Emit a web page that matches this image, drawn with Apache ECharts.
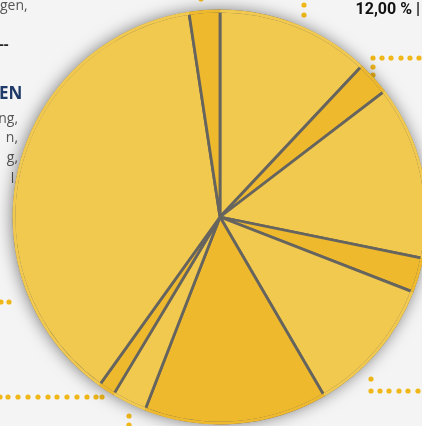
<!DOCTYPE html>
<html>
<head>
<meta charset="utf-8">
<script src="https://cdn.jsdelivr.net/npm/echarts@6/dist/echarts.min.js"></script>
<style>
  html, body { margin: 0; padding: 0; background: #f4f4f4; }
  #chart { width: 422px; height: 426px; }
</style>
</head>
<body>
<div id="chart"></div>
<script>
// slices, clockwise from 12 o'clock (percent)
const sliceNames = ["A", "B", "C", "D", "E", "F", "G", "H", "I", "J"];
const sliceValues = [12.0, 2.6, 13.6, 2.7, 10.7, 14.3, 2.7, 1.3, 37.7, 2.4];
const sliceShade = ["light", "dark", "light", "dark", "light", "dark", "light", "dark", "light", "dark"];
const shadeColors = { light: "#F2C94F", dark: "#EFB92D" };

// cut-off text from the surrounding infographic
const leftLines = [
  { text: "ng,", y: 121 },
  { text: "n,", y: 140 },
  { text: "g,", y: 160 },
  { text: "l,", y: 181 },
];

// decorative dotted leader lines
const dots = [
  [304, 5], [304, 15], [201, -1],
  [373, 58], [382, 58], [391, 58], [401, 58], [410, 58], [419, 58], [373, 67], [373, 75],
  [371, 379], [371, 391], [380, 391], [389, 391], [399, 391], [408, 391], [418, 391],
  [1, 302], [9, 302],
  [0, 397], [8, 397], [18, 397], [28, 397], [38, 397], [48, 397], [57, 397],
  [67, 397], [77, 397], [87, 397], [96, 397], [102, 397], [129, 416], [129, 425],
];

const chart = echarts.init(document.getElementById("chart"));

const graphics = [];
graphics.push({
  type: "text", left: 0, top: -1, z: 0,
  style: { text: "gen,", fill: "#555", font: "14px 'Open Sans', sans-serif" },
});
leftLines.forEach((l) => {
  graphics.push({
    type: "text",
    right: 404,
    top: l.y - 9,
    z: 0,
    style: { text: l.text, fill: "#555", font: "14px 'Open Sans', sans-serif" },
  });
});
graphics.push({
  type: "text", left: -1, top: 37, z: 0,
  style: { text: "--", fill: "#222", font: "bold 15px 'Open Sans', sans-serif" },
});
graphics.push({
  type: "text", left: -1, top: 86, z: 0,
  style: { text: "EN", fill: "#1F3A68", font: "bold 17px 'Open Sans', sans-serif" },
});
graphics.push({
  type: "text", right: 2, top: 2, z: 0,
  style: { text: "12,00 % |", fill: "#111", font: "bold 16px Roboto, sans-serif" },
});
dots.forEach((d) => {
  graphics.push({
    type: "circle", z: 0,
    shape: { cx: d[0], cy: d[1], r: 2.6 },
    style: { fill: "#F0B719" },
  });
});

const sliceData = sliceValues.map((v, i) => ({
  name: sliceNames[i],
  value: v,
  itemStyle: { color: shadeColors[sliceShade[i]] },
}));

const option = {
  backgroundColor: "#f4f4f4",
  animation: false,
  graphic: graphics,
  series: [
    {
      // backing disc for the drop shadow
      type: "pie",
      center: [220, 217],
      radius: 207,
      silent: true,
      z: 1,
      label: { show: false },
      labelLine: { show: false },
      data: [{ value: 1, itemStyle: { color: "#F2C94F" } }],
      itemStyle: {
        shadowBlur: 16,
        shadowColor: "rgba(0,0,0,0.5)",
        shadowOffsetX: -1,
      },
    },
    {
      type: "pie",
      center: [220, 217],
      radius: 206,
      startAngle: 90,
      clockwise: true,
      z: 2,
      silent: true,
      label: { show: false },
      labelLine: { show: false },
      itemStyle: {
        borderColor: "#66645E",
        borderWidth: 2.8,
      },
      data: sliceData,
    },
    {
      // rim over the outer border so the edge stays soft
      type: "pie",
      center: [220, 217],
      radius: [204.6, 207.5],
      startAngle: 90,
      clockwise: true,
      z: 3,
      silent: true,
      label: { show: false },
      labelLine: { show: false },
      itemStyle: { borderWidth: 0 },
      data: sliceData,
    },
  ],
};
chart.setOption(option);
</script>
</body>
</html>
